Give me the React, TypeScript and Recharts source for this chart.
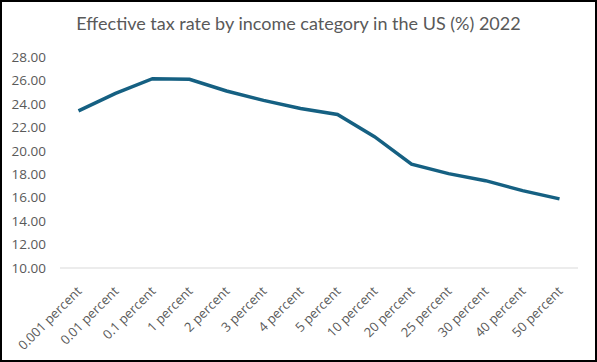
import { CartesianGrid, Line, LineChart, XAxis, YAxis } from "recharts";

const categories = [
  "0.001 percent",
  "0.01 percent",
  "0.1 percent",
  "1 percent",
  "2 percent",
  "3 percent",
  "4 percent",
  "5 percent",
  "10 percent",
  "20 percent",
  "25 percent",
  "30 percent",
  "40 percent",
  "50 percent",
];

const taxRate = [23.4, 24.9, 26.15, 26.1, 25.1, 24.3, 23.6, 23.1, 21.2, 18.85, 18.05, 17.45, 16.6, 15.9];

const yTicks = [10, 12, 14, 16, 18, 20, 22, 24, 26, 28];

const data = categories.map((category, i) => ({ category, rate: taxRate[i] }));

const textColor = "#595959";
const font = "'Open Sans', 'Noto Sans', sans-serif";

function CategoryTick(props: any) {
  const { x, y, payload } = props;
  const ax = x + 4;
  const ay = y + 16;
  return (
    <text
      x={ax}
      y={ay}
      transform={`rotate(-45 ${ax} ${ay})`}
      textAnchor="end"
      fill={textColor}
      fontSize={13}
      fontFamily={font}
    >
      {payload.value}
    </text>
  );
}

export default function App() {
  return (
    <div style={{ position: "absolute", left: 0, top: 0, width: 597, height: 362, background: "#fff" }}>
      <div
        style={{
          position: "absolute",
          left: 0,
          top: 12,
          width: 597,
          textAlign: "center",
          fontFamily: "Lato, sans-serif",
          fontSize: 18,
          color: textColor,
        }}
      >
        Effective tax rate by income category in the US (%) 2022
      </div>
      <LineChart width={597} height={362} data={data} margin={{ top: 57, right: 19, bottom: 0, left: 0 }}>
        <CartesianGrid vertical={false} horizontal={false} />
        <XAxis
          dataKey="category"
          interval={0}
          height={94}
          tickLine={false}
          axisLine={{ stroke: "#d9d9d9" }}
          padding={{ left: 18.5, right: 18.5 }}
          tick={<CategoryTick />}
        />
        <YAxis
          domain={[10, 28]}
          ticks={yTicks}
          width={60}
          axisLine={false}
          tickLine={false}
          tickSize={0}
          tickMargin={14}
          tickFormatter={(v: number) => v.toFixed(2)}
          tick={{ fill: textColor, fontSize: 13.5, fontFamily: font }}
        />
        <Line
          type="linear"
          dataKey="rate"
          stroke="#156082"
          strokeWidth={3.5}
          dot={false}
          isAnimationActive={false}
        />
      </LineChart>
      <div
        style={{
          position: "absolute",
          left: 0,
          top: 0,
          width: 597,
          height: 362,
          boxSizing: "border-box",
          border: "2px solid #000",
          pointerEvents: "none",
        }}
      />
    </div>
  );
}
